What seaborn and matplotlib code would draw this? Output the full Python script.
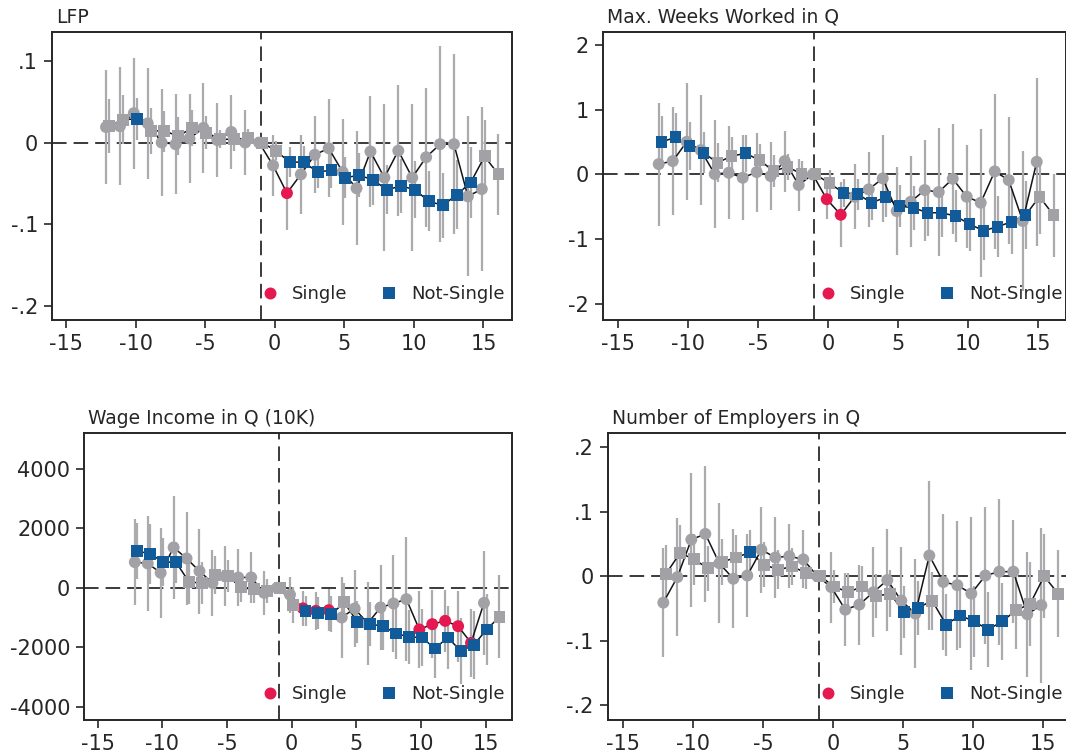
import numpy as np
import pandas as pd
import matplotlib
matplotlib.use("Agg")
import matplotlib.pyplot as plt
from matplotlib.lines import Line2D
import seaborn as sns

# ---------------------------------------------------------------------------
# Event-study estimates (point estimate and 95% CI half-width), t = -1 omitted
# ---------------------------------------------------------------------------
t_single = list(range(-12, 16))      # Single: -12 .. 15
t_not = list(range(-12, 17))         # Not-Single: -12 .. 16

# LFP
lfp_single = [0.019, 0.020, 0.036, 0.0235, 0.000, -0.002, 0.005, 0.018, 0.003, 0.013, 0.000, 0.0,
              -0.028, -0.062, -0.039, -0.015, -0.007, -0.036, -0.056, -0.011, -0.043, -0.010, -0.043,
              -0.018, -0.002, -0.002, -0.066, -0.057]
lfp_single_ci = [0.070, 0.072, 0.068, 0.068, 0.066, 0.061, 0.054, 0.055, 0.045, 0.045, 0.040, 0.0,
                 0.037, 0.045, 0.048, 0.047, 0.060, 0.065, 0.070, 0.068, 0.090, 0.080, 0.090,
                 0.085, 0.120, 0.110, 0.098, 0.100]
lfp_not = [0.020, 0.028, 0.029, 0.0145, 0.014, 0.008, 0.018, 0.012, 0.004, 0.004, 0.005, 0.0,
           -0.010, -0.024, -0.024, -0.036, -0.034, -0.043, -0.040, -0.046, -0.058, -0.053, -0.058,
           -0.072, -0.077, -0.064, -0.049, -0.017, -0.039]
lfp_not_ci = [0.033, 0.030, 0.026, 0.028, 0.025, 0.023, 0.022, 0.020, 0.011, 0.014, 0.011, 0.0,
              0.012, 0.018, 0.020, 0.020, 0.022, 0.025, 0.027, 0.030, 0.030, 0.033, 0.035,
              0.037, 0.040, 0.042, 0.044, 0.045, 0.050]

# Max. weeks worked in quarter
weeks_single = [0.159, 0.205, 0.503, 0.375, 0.005, 0.025, -0.052, 0.036, -0.026, 0.205, -0.165, 0.0,
                -0.383, -0.624, -0.345, -0.232, -0.062, -0.567, -0.423, -0.242, -0.273, -0.068, -0.345,
                -0.438, 0.046, -0.088, -0.721, 0.195]
weeks_single_ci = [0.95, 0.835, 0.905, 0.85, 0.83, 0.72, 0.66, 0.61, 0.53, 0.47, 0.40, 0.0,
                   0.30, 0.50, 0.50, 0.58, 0.67, 0.68, 0.70, 0.78, 0.99, 0.85, 0.80,
                   1.14, 1.20, 0.98, 1.08, 1.30]
weeks_not = [0.503, 0.571, 0.442, 0.334, 0.180, 0.283, 0.324, 0.221, 0.051, 0.118, 0.005, 0.0,
             -0.139, -0.284, -0.304, -0.438, -0.355, -0.490, -0.516, -0.593, -0.593, -0.644, -0.768,
             -0.871, -0.809, -0.732, -0.629, -0.345, -0.629]
weeks_not_ci = [0.40, 0.37, 0.37, 0.32, 0.30, 0.29, 0.28, 0.25, 0.25, 0.20, 0.20, 0.0,
                0.20, 0.22, 0.24, 0.27, 0.30, 0.32, 0.34, 0.36, 0.38, 0.40, 0.42,
                0.45, 0.47, 0.50, 0.52, 0.58, 0.64]

# Wage income in quarter (10K)
wage_single = [866, 821, 505, 1360, 990, 562, 168, 394, 350, 350, -168, 0,
               -230, -690, -774, -751, -998, -694, -1200, -661, -526, -381, -1402,
               -1223, -1111, -1290, -1852, -505]
wage_single_ci = [1460, 1594, 1515, 1739, 1570, 1426, 1100, 1000, 950, 850, 750, 0,
                  600, 600, 650, 700, 1370, 1300, 1400, 1425, 1630, 2090, 1300,
                  1150, 1050, 1200, 1150, 1750]
wage_not = [1246, 1135, 875, 855, 190, 168, 428, 394, 13, -54, -101, 0,
            -570, -774, -842, -886, -492, -1145, -1222, -1290, -1537, -1650, -1672,
            -2042, -1672, -2121, -1930, -1402, -976]
wage_not_ci = [950, 1000, 800, 700, 750, 700, 650, 550, 500, 450, 400, 0,
               600, 500, 550, 600, 650, 700, 750, 800, 850, 900, 950,
               1000, 1050, 1100, 1150, 1200, 1400]

# Number of employers in quarter
emp_single = [-0.041, -0.0015, 0.0567, 0.0655, 0.020, -0.004, 0.001, 0.041, 0.029, 0.031, 0.026, 0.0,
              -0.017, -0.052, -0.044, -0.025, -0.006, -0.038, -0.058, 0.032, -0.009, -0.014, -0.027,
              0.001, 0.007, 0.007, -0.059, -0.045]
emp_single_ci = [0.084, 0.091, 0.104, 0.106, 0.093, 0.077, 0.064, 0.067, 0.063, 0.050, 0.045, 0.0,
                 0.055, 0.057, 0.062, 0.070, 0.079, 0.084, 0.084, 0.115, 0.106, 0.100, 0.119,
                 0.106, 0.113, 0.080, 0.097, 0.120]
emp_not = [0.004, 0.036, 0.026, 0.012, 0.022, 0.029, 0.037, 0.018, 0.010, 0.015, 0.005, 0.0,
           -0.016, -0.025, -0.016, -0.031, -0.027, -0.056, -0.049, -0.038, -0.075, -0.061, -0.070,
           -0.083, -0.070, -0.053, -0.043, 0.000, -0.027]
emp_not_ci = [0.045, 0.043, 0.040, 0.035, 0.035, 0.035, 0.034, 0.035, 0.030, 0.028, 0.025, 0.0,
              0.025, 0.030, 0.032, 0.034, 0.036, 0.040, 0.042, 0.045, 0.048, 0.050, 0.055,
              0.058, 0.060, 0.060, 0.065, 0.065, 0.068]

# Axis ticks and labels
x_ticks = [-15, -10, -5, 0, 5, 10, 15]
x_ticklabels = ["-15", "-10", "-5", "0", "5", "10", "15"]
lfp_yticks = [-0.2, -0.1, 0.0, 0.1]
lfp_yticklabels = ["-.2", "-.1", "0", ".1"]
weeks_yticks = [-2, -1, 0, 1, 2]
weeks_yticklabels = ["-2", "-1", "0", "1", "2"]
wage_yticks = [-4000, -2000, 0, 2000, 4000]
wage_yticklabels = ["-4000", "-2000", "0", "2000", "4000"]
emp_yticks = [-0.2, -0.1, 0.0, 0.1, 0.2]
emp_yticklabels = ["-.2", "-.1", "0", ".1", ".2"]

titles = ["LFP", "Max. Weeks Worked in Q", "Wage Income in Q (10K)", "Number of Employers in Q"]
series_names = ["Single", "Not-Single"]

# ---------------------------------------------------------------------------
# Styling
# ---------------------------------------------------------------------------
RED = "#e5184f"
BLUE = "#115b9b"
GRAY = "#a2a2a6"
BAR = "#ababae"
INK = "#262626"

sns.set_theme(style="ticks")
plt.rcParams["font.family"] = ["DejaVu Sans"]
plt.rcParams["text.color"] = INK
plt.rcParams["axes.edgecolor"] = INK
plt.rcParams["xtick.color"] = INK
plt.rcParams["ytick.color"] = INK

W, H = 1066, 755
fig = plt.figure(figsize=(W / 100, H / 100), dpi=100)


def add_axes_px(left, top, width, height):
    return fig.add_axes([left / W, 1 - (top + height) / H, width / W, height / H])


def series_frame(t, est, ci, offset, name):
    df = pd.DataFrame({"t": t, "est": est, "ci": ci})
    df["x"] = df["t"] + offset
    df["lo"] = df["est"] - df["ci"]
    df["hi"] = df["est"] + df["ci"]
    sig = (df["ci"] > 0) & ((df["lo"] > 0) | (df["hi"] < 0))
    df["key"] = np.where(sig, name, "n.s.")
    return df


palette = {"Single": RED, "Not-Single": BLUE, "n.s.": GRAY}

panels = [
    dict(title=titles[0], s=(lfp_single, lfp_single_ci), n=(lfp_not, lfp_not_ci),
         box=(52, 32, 460, 288), xlim=(-16, 17.05), ylim=(-0.2175, 0.1355),
         yt=(lfp_yticks, lfp_yticklabels), leg=(270, 294)),
    dict(title=titles[1], s=(weeks_single, weeks_single_ci), n=(weeks_not, weeks_not_ci),
         box=(603, 32, 463.4, 288), xlim=(-16.1, 17.0), ylim=(-2.25, 2.2),
         yt=(weeks_yticks, weeks_yticklabels), leg=(828, 294)),
    dict(title=titles[2], s=(wage_single, wage_single_ci), n=(wage_not, wage_not_ci),
         box=(84, 432.7, 428.3, 287.3), xlim=(-16.05, 17.07), ylim=(-4448, 5222),
         yt=(wage_yticks, wage_yticklabels), leg=(270, 694)),
    dict(title=titles[3], s=(emp_single, emp_single_ci), n=(emp_not, emp_not_ci),
         box=(607.6, 433, 463.4, 287), xlim=(-16.1, 17.0), ylim=(-0.223, 0.222),
         yt=(emp_yticks, emp_yticklabels), leg=(828, 694)),
]

MS = 8.6  # marker size in points

for p in panels:
    ax = add_axes_px(*p["box"])
    d_s = series_frame(t_single, *p["s"], -0.12, "Single")
    d_n = series_frame(t_not, *p["n"], 0.08, "Not-Single")

    # reference lines
    ax.axhline(0, color="#3a3a3a", lw=1.4, dashes=(7.5, 3.6), zorder=1)
    ax.axvline(-1, color="#3a3a3a", lw=1.4, dashes=(7.5, 3.6), zorder=1)

    # confidence intervals
    for d in (d_s, d_n):
        dd = d[d["ci"] > 0]
        ax.vlines(dd["x"], dd["lo"], dd["hi"], color=BAR, lw=1.6, zorder=2)

    # connecting lines
    for d in (d_s, d_n):
        sns.lineplot(data=d, x="x", y="est", color="#141414", lw=1.1, estimator=None,
                     sort=True, ax=ax, legend=False, zorder=3)

    # point estimates
    sns.scatterplot(data=d_s, x="x", y="est", hue="key", palette=palette, marker="o",
                    s=MS ** 2, linewidth=0, ax=ax, legend=False, zorder=4)
    sns.scatterplot(data=d_n, x="x", y="est", hue="key", palette=palette, marker="s",
                    s=MS ** 2, linewidth=0, ax=ax, legend=False, zorder=5)

    ax.set_xlim(*p["xlim"])
    ax.set_ylim(*p["ylim"])
    ax.set_xticks(x_ticks)
    ax.set_xticklabels(x_ticklabels)
    ax.set_yticks(p["yt"][0])
    ax.set_yticklabels(p["yt"][1])
    ax.set_xlabel("")
    ax.set_ylabel("")
    for sp in ax.spines.values():
        sp.set_visible(True)
        sp.set_linewidth(1.4)
        sp.set_color(INK)
    ax.tick_params(direction="out", length=6, width=1.2, labelsize=15, pad=4, colors=INK)

    ax.annotate(p["title"], xy=(0, 1), xycoords="axes fraction", xytext=(4, 9),
                textcoords="offset pixels", ha="left", va="baseline", fontsize=13.5, color=INK)

    handles = [Line2D([], [], ls="none", marker="o", markersize=MS, color=RED, markeredgewidth=0),
               Line2D([], [], ls="none", marker="s", markersize=MS, color=BLUE, markeredgewidth=0)]
    lx, ly = p["leg"]
    ax.legend(handles, series_names, ncol=2, frameon=False, fontsize=13,
              loc="center left", bbox_to_anchor=((lx - 9) / W, 1 - ly / H),
              bbox_transform=fig.transFigure, borderpad=0, borderaxespad=0,
              handlelength=1.0, handletextpad=0.72, columnspacing=1.8, labelcolor=INK)

fig.savefig("out.png", dpi=100)
